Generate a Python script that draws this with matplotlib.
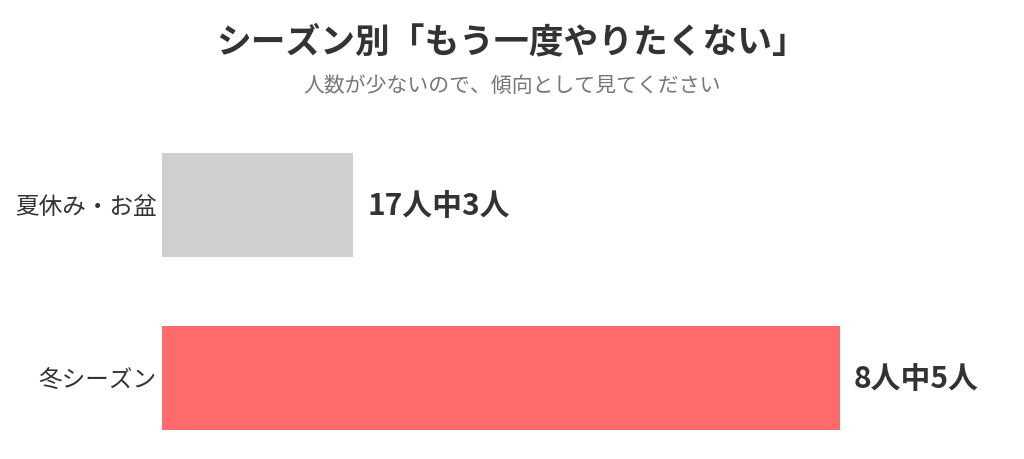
import matplotlib
matplotlib.use("Agg")
import matplotlib.pyplot as plt

plt.rcParams['font.family'] = ['Noto Sans CJK JP', 'DejaVu Sans']

# データ
categories = ["夏休み・お盆", "冬シーズン"]
totals = [17, 8]
counts = [3, 5]
rates = [c / t * 100 for c, t in zip(counts, totals)]
value_labels = [f"{t}人中{c}人" for t, c in zip(totals, counts)]
colors = ["#cfcfcf", "#ff6b6b"]

fig = plt.figure(figsize=(10.24, 4.59), dpi=100)
ax = fig.add_axes([162 / 1024, 29 / 459, 0.7945, 277 / 459])

y = list(range(len(categories)))
ax.barh(y, rates, height=0.6, color=colors)
ax.set_ylim(1.3, -0.3)
ax.set_xlim(0, 75)

for yi, r, lab in zip(y, rates, value_labels):
    ax.annotate(lab, (r, yi), xytext=(10, -1), textcoords="offset points",
                va="center", ha="left", fontsize=21.5, fontweight="bold",
                color="#333333", annotation_clip=False)

ax.set_yticks(y)
ax.set_yticklabels(categories, fontsize=17, color="#333333")
ax.tick_params(axis="y", length=0, pad=4)
ax.set_xticks([])
for s in ax.spines.values():
    s.set_visible(False)

fig.text(0.5, 1 - 42 / 459, "シーズン別「もう一度やりたくない」", ha="center", va="center",
         fontsize=25, fontweight="bold", color="#333333")
fig.text(0.5, 1 - 86 / 459, "人数が少ないので、傾向として見てください", ha="center", va="center",
         fontsize=15, color="#777777")

fig.savefig("out.png", dpi=100)
